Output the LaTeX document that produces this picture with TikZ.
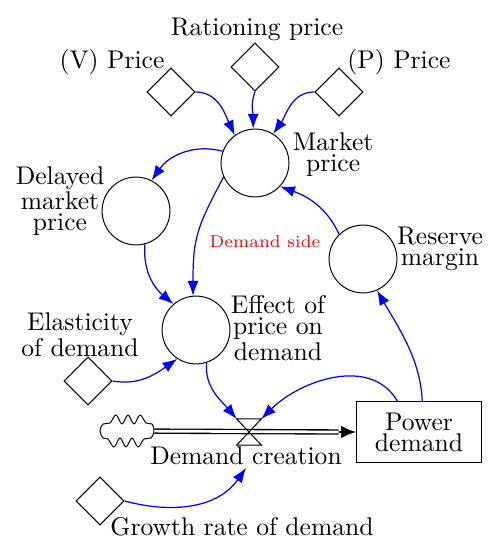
\documentclass[tikz,border=0pt]{standalone}
\usepackage{xcolor}
\usepackage{tikz}
\usetikzlibrary{shapes.geometric, arrows.meta, positioning, calc}

\begin{document}
\begin{tikzpicture}[
  x=0.0143cm, y=0.0143cm,
  aux/.style={circle, draw, minimum size=0.97cm, inner sep=0pt},
  const/.style={diamond, draw, minimum size=0.69cm, inner sep=0pt},
  stock/.style={rectangle, draw, minimum width=1.79cm, minimum height=0.86cm, align=center, font={\fontsize{10.4}{8.6}\selectfont}},
  lbl/.style={align=center, inner sep=1pt, font={\fontsize{10.4}{8.6}\selectfont}},
  link/.style={-{Latex[length=6pt,width=4.5pt]}, blue, line width=0.5pt},
  flow/.style={double, double distance=1.1pt, line width=0.55pt},
  flowtip/.style={-{Latex[length=6pt,width=5pt]}, line width=0.5pt}
]
  \useasboundingbox (0,0) rectangle (502,-550);

  % auxiliaries and constants
  \node[aux] (mp) at (255,-163) {};
  \node[aux] (dm) at (136,-211) {};
  \node[aux] (rm) at (363,-259) {};
  \node[aux] (ep) at (196,-330) {};
  \node[const] (vp) at (171,-92) {};
  \node[const] (rp) at (255,-67) {};
  \node[const] (pp) at (339,-92) {};
  \node[const] (el) at (88,-381) {};
  \node[const] (gr) at (100,-501) {};

  % stock and flow
  \node[stock] (pd) at (419,-432) {Power\\demand};
  \node[minimum width=0.77cm, minimum height=0.4cm, inner sep=0pt] (src) at (127,-431) {};
  \draw[shift={(src.center)}] plot[smooth cycle, tension=0.6] coordinates {
    (-27,0) (-24,7) (-17,8) (-11,16) (-5,7) (1,16) (7,7) (13,16) (19,8) (25,7)
    (27,0) (24,-7) (17,-8) (11,-16) (5,-7) (-1,-16) (-7,-7) (-13,-16) (-19,-8) (-24,-7)};
  \node[minimum width=0.34cm, minimum height=0.36cm, inner sep=0pt] (valve) at (249,-432) {};
  \coordinate (tipbase) at ([xshift=-7pt]pd.west);
  \draw[flow] (src) -- (tipbase);
  \draw[flowtip] (tipbase) -- (pd);
  \draw (valve.north west) -- (valve.north east) -- (valve.south west) -- (valve.south east) -- cycle;

  % labels
  \node[lbl] (vpl) at (112,-62) {(V) Price};
  \node[lbl] (rpl) at (257,-29) {Rationing price};
  \node[lbl] (ppl) at (399,-62) {(P) Price};
  \node[lbl, anchor=west] (mpl) at (290,-155) {Market\\price};
  \node[lbl] (dml) at (60,-201) {Delayed\\market\\price};
  \node[lbl] (rml) at (440,-249) {Reserve\\margin};
  \node[lbl] (epl) at (278,-328) {Effect of\\price on\\demand};
  \node[lbl] (ell) at (80,-335) {Elasticity\\of demand};
  \node[lbl] (dcl) at (246,-456) {Demand creation};
  \node[lbl] (grl) at (242,-527) {Growth rate of demand};
  \node[font=\scriptsize, text=red] (dsl) at (265,-242) {Demand side};

  % links
  \draw[link] (vp.east) to[out=0, in=115] (mp.126);
  \draw[link] (rp.south) to[out=-110, in=90] (mp.93);
  \draw[link] (pp.west) to[out=180, in=55] (mp.58);
  \draw[link] (mp.160) to[out=165, in=55] (dm.63);
  \draw[link] (mp.204) to[out=242, in=90, looseness=1.2] (ep.95);
  \draw[link] (dm.285) to[out=265, in=140] (ep.131);
  \draw[link] (rm.134) to[out=115, in=-20] (mp.-43);
  \draw[link] (el.east) to[out=-10, in=215] (ep.237);
  \draw[link] (ep.-72) to[out=-95, in=130] (valve.north west);
  \draw[link] (pd.125) to[out=120, in=45] (valve.north east);
  \draw[link] (pd.84) to[out=92, in=-60, looseness=0.9] (rm.-66);
  \draw[link] (gr.east) to[out=-15, in=-125] (dcl.south);
\end{tikzpicture}
\end{document}
